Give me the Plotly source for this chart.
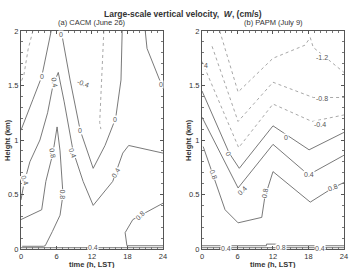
import plotly.graph_objects as go

# ---------------- data: contour lines (time h, height km) ----------------
# Panel (a) CACM
a_m04_t = [2.0, 1.2, 0.5, 0.0]
a_m04_h = [2.0, 1.83, 1.60, 1.53]
a_0L_t = [5.1, 4.2, 3.5, 2.0, 0.0]
a_0L_h = [2.0, 1.78, 1.58, 1.37, 1.09]
a_0V_t = [6.8, 8.3, 10.0, 12.2, 14.2, 16.0, 16.9, 17.1]
a_0V_h = [2.0, 1.55, 1.09, 0.74, 0.95, 1.20, 1.55, 2.0]
a_0R_t = [21.0, 21.3, 23.8, 24.0]
a_0R_h = [2.0, 1.84, 1.50, 1.47]
a_m04b_t = [14.0, 13.7, 13.4, 13.3, 13.5]
a_m04b_h = [2.0, 1.65, 1.38, 1.16, 1.10]
a_04_t = [0.0, 0.5, 1.5, 3.2, 4.5, 5.4, 6.3, 7.3, 8.8, 10.5, 12.2, 15.5, 17.2, 18.2, 24.0]
a_04_h = [0.45, 0.60, 0.80, 1.00, 1.25, 1.50, 1.62, 1.35, 0.90, 0.62, 0.40, 0.62, 0.88, 0.95, 0.88]
a_08_t = [0.0, 3.5, 4.2, 5.4, 6.1, 6.6, 7.1, 6.6, 5.3, 4.1, 3.8, 0.2]
a_08_h = [0.27, 0.36, 0.62, 0.88, 1.12, 0.90, 0.50, 0.31, 0.16, 0.03, 0.025, 0.025]
a_08R_t = [24.0, 20.1, 18.9, 17.6, 17.9, 24.0]
a_08R_h = [0.42, 0.31, 0.27, 0.15, 0.03, 0.03]
a_04s_t = [0.0, 24.0]
a_04s_h = [0.012, 0.012]

# Panel (b) PAPM
b_m12_t = [3.0, 6.1, 12.0, 17.4, 18.3, 18.8, 24.0]
b_m12_h = [2.0, 1.44, 1.75, 1.87, 1.94, 1.85, 1.62]
b_m08_t = [1.7, 6.1, 12.0, 18.8, 24.0]
b_m08_h = [1.86, 1.17, 1.53, 1.39, 1.39]
b_m04_t = [0.0, 6.2, 12.0, 18.6, 24.0]
b_m04_h = [1.72, 0.93, 1.33, 1.17, 1.23]
b_0_t = [0.0, 4.6, 6.3, 12.0, 18.1, 24.0]
b_0_h = [1.45, 0.88, 0.74, 1.13, 0.91, 1.07]
b_04_t = [0.0, 6.1, 12.0, 18.0, 24.0]
b_04_h = [1.21, 0.56, 0.96, 0.68, 0.86]
b_08_t = [0.2, 1.9, 3.9, 6.1, 10.1, 10.6, 12.0, 18.3, 22.1, 24.0]
b_08_h = [0.94, 0.68, 0.36, 0.24, 0.29, 0.47, 0.71, 0.43, 0.56, 0.61]
b_s1_t = [0.0, 24.0]
b_s1_h = [0.012, 0.012]
b_s2_t = [0.0, 10.9, 10.9, 12.6, 12.6, 24.0]
b_s2_h = [0.03, 0.03, 0.045, 0.045, 0.03, 0.03]

# labels: (time, height, text, angle)
a_labels = [(6.7, 1.97, "0", 0), (3.6, 1.58, "0", 0), (5.7, 1.53, "0.4", 80),
            (10.0, 1.09, "0", 0), (10.5, 1.52, "-0.4", 20), (23.7, 1.51, "0", 0),
            (15.9, 1.19, "0", 0), (5.4, 0.88, "0.8", 80), (0.7, 0.63, "0.4", 70),
            (8.8, 0.88, "0.4", 70), (7.1, 0.50, "0.8", 90), (16.1, 0.70, "0.4", -60),
            (20.1, 0.31, "0.8", -45), (12.2, 0.01, "0.4", 0)]
b_labels = [(0.7, 1.68, "4", 0), (20.3, 1.76, "-1.2", 0), (20.3, 1.38, "-0.8", 0),
            (20.0, 1.14, "-0.4", 0), (14.2, 1.02, "0", 0), (4.5, 0.88, "0", 60),
            (6.8, 0.54, "0.4", -45), (18.1, 0.68, "0.4", 0), (1.9, 0.68, "0.8", 70),
            (10.6, 0.51, "0.8", -80), (22.1, 0.56, "0.8", -20),
            (4.0, 0.0, "0.4", 0), (13.4, 0.01, "0.8", 0), (20.0, 0.0, "0.4", 0)]

SOLID = dict(color="#6a6a6a", width=0.9)
DOT = dict(color="#a8a8a8", width=1.0, dash="dot")

fig = go.Figure()

def add(t, h, style, xa, ya):
    fig.add_trace(go.Scatter(x=t, y=h, mode="lines", line=style, xaxis=xa, yaxis=ya,
                             hoverinfo="skip", showlegend=False))

for t, h in [(a_m04_t, a_m04_h), (a_m04b_t, a_m04b_h)]:
    add(t, h, DOT, "x", "y")
for t, h in [(a_0L_t, a_0L_h), (a_0V_t, a_0V_h), (a_0R_t, a_0R_h), (a_04_t, a_04_h),
             (a_08_t, a_08_h), (a_08R_t, a_08R_h), (a_04s_t, a_04s_h)]:
    add(t, h, SOLID, "x", "y")
for t, h in [(b_m12_t, b_m12_h), (b_m08_t, b_m08_h), (b_m04_t, b_m04_h)]:
    add(t, h, DOT, "x2", "y2")
for t, h in [(b_0_t, b_0_h), (b_04_t, b_04_h), (b_08_t, b_08_h), (b_s1_t, b_s1_h), (b_s2_t, b_s2_h)]:
    add(t, h, SOLID, "x2", "y2")

FONT = "Liberation Sans, Arial, sans-serif"
ann = []
for (t, h, s, a) in a_labels:
    ann.append(dict(x=t, y=h, xref="x", yref="y", text=s, showarrow=False, textangle=a,
                    xanchor="center", yanchor="middle",
                    font=dict(size=7, color="#555555", family=FONT), bgcolor="white", borderpad=0))
for (t, h, s, a) in b_labels:
    ann.append(dict(x=t, y=h, xref="x2", yref="y2", text=s, showarrow=False, textangle=a,
                    xanchor="center", yanchor="middle",
                    font=dict(size=7, color="#555555", family=FONT), bgcolor="white", borderpad=0))

def pa(x, y, text, size=7.5, angle=0):
    return dict(x=x, y=y, xref="paper", yref="paper", text=text, showarrow=False,
                xanchor="center", yanchor="middle", textangle=angle,
                font=dict(size=size, color="#333", family=FONT))

ann += [
    pa(0.52, 1 - 14 / 268, "<b>Large-scale vertical velocity,  <i>W</i>, (cm/s)</b>", 8.5),
    pa(0.262, 1 - 23 / 268, "(a) CACM (June 26)"),
    pa(0.778, 1 - 23 / 268, "(b) PAPM (July 9)"),
    pa(7 / 351, 1 - 140 / 268, "<b>Height (km)</b>", 7.5, -90),
    pa(188 / 351, 1 - 140 / 268, "<b>Height (km)</b>", 7.5, -90),
    pa(0.262, 1 - 264 / 268, "<b>time (h, LST)</b>"),
    pa(0.778, 1 - 264 / 268, "<b>time (h, LST)</b>"),
]

xax = dict(range=[0, 24], tickvals=[0, 6, 12, 18, 24], ticks="inside", ticklen=3, tickcolor="#555",
           showline=True, linecolor="#555", linewidth=1, mirror="allticks", showgrid=False, zeroline=False,
           automargin=False,
           minor=dict(dtick=1, ticks="inside", ticklen=2, tickcolor="#777"),
           tickfont=dict(size=7.5, color="#333", family=FONT))
yax = dict(range=[0, 2], tickvals=[0, 0.5, 1, 1.5, 2], ticktext=["0", "0.5", "1", "1.5", "2"],
           ticks="inside", ticklen=3, tickcolor="#555", automargin=False,
           showline=True, linecolor="#555", linewidth=1, mirror="allticks", showgrid=False, zeroline=False,
           minor=dict(dtick=0.1, ticks="inside", ticklen=2, tickcolor="#777"),
           tickfont=dict(size=7.5, color="#333", family=FONT))

fig.update_layout(
    template="none",
    width=351, height=268, margin=dict(l=0, r=0, t=0, b=0, pad=0),
    paper_bgcolor="white", plot_bgcolor="white",
    xaxis=dict(xax, domain=[0.0598, 0.4644], anchor="y"),
    yaxis=dict(yax, domain=[0.0709, 0.8843], anchor="x"),
    xaxis2=dict(xax, domain=[0.5755, 0.980], anchor="y2"),
    yaxis2=dict(yax, domain=[0.0709, 0.8843], anchor="x2"),
    annotations=ann,
)
fig.write_html("out.html")
